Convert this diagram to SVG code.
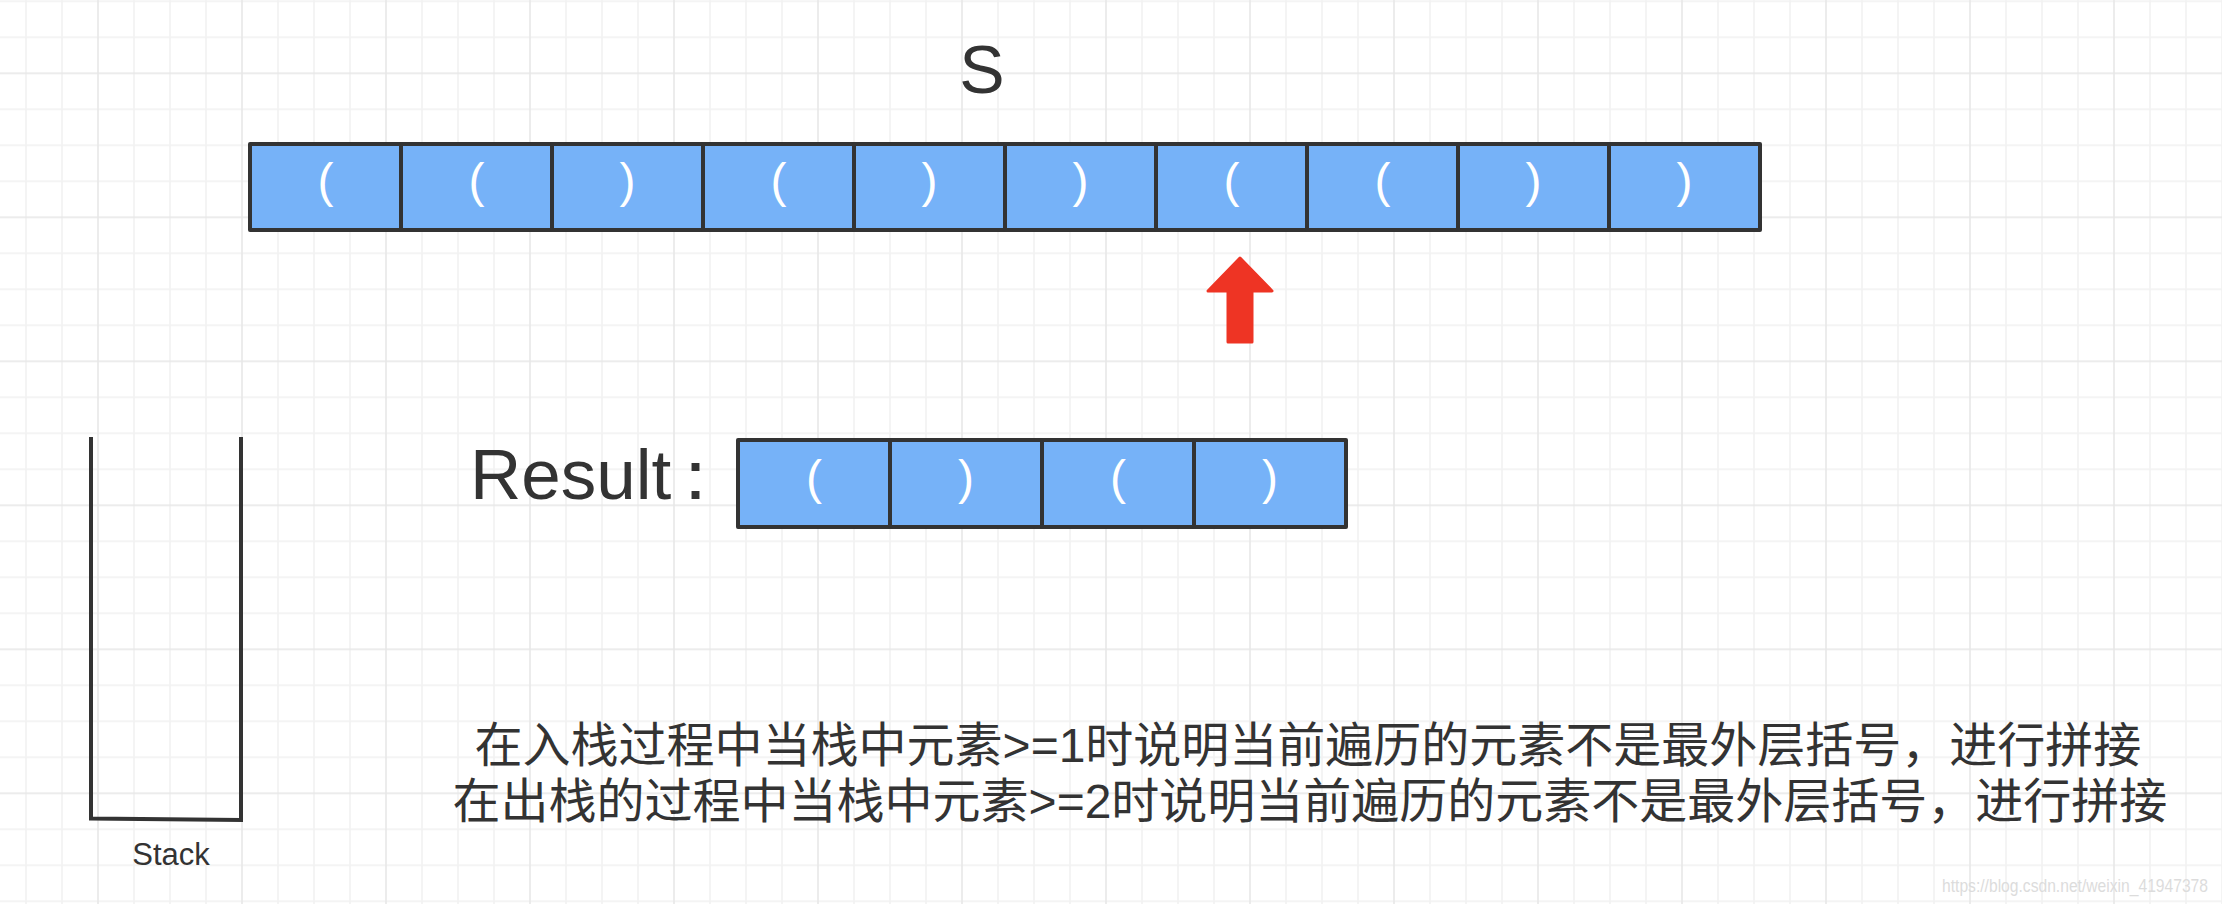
<svg xmlns="http://www.w3.org/2000/svg" width="2222" height="904" viewBox="0 0 2222 904">
  <defs>
    <pattern id="grid" patternUnits="userSpaceOnUse" x="8" y="-16.7" width="144" height="144">
      <rect x="17.25" y="0" width="1.5" height="144" fill="#f1f1f1"/>
      <rect x="53.25" y="0" width="1.5" height="144" fill="#f1f1f1"/>
      <rect x="125.25" y="0" width="1.5" height="144" fill="#f1f1f1"/>
      <rect x="0" y="17.25" width="144" height="1.5" fill="#f1f1f1"/>
      <rect x="0" y="53.25" width="144" height="1.5" fill="#f1f1f1"/>
      <rect x="0" y="125.25" width="144" height="1.5" fill="#f1f1f1"/>
      <rect x="89.25" y="0" width="1.5" height="144" fill="#e6e6e6"/>
      <rect x="0" y="89.25" width="144" height="1.5" fill="#e6e6e6"/>
    </pattern>
    <style>
      .cell { fill: #76b2f8; stroke: #333333; stroke-width: 4; stroke-linejoin: round; }
      .par { font-family: "Liberation Sans", Arial, sans-serif; font-size: 48px; fill: #ffffff; text-anchor: middle; }
      .lbl { font-family: "Liberation Sans", Arial, sans-serif; fill: #333333; }
      .cn { font-family: "Liberation Sans", "Noto Sans CJK SC", sans-serif; font-size: 48px; fill: #333333; text-anchor: middle; }
    </style>
  </defs>
  <rect x="0" y="0" width="2222" height="904" fill="#ffffff"/>
  <rect x="0" y="0" width="2222" height="904" fill="url(#grid)"/>

  <g id="title-S">
    <text class="lbl" x="982" y="93" font-size="68" text-anchor="middle">S</text>
  </g>

  <g id="array-S">
    <g id="s0"><rect class="cell" x="250" y="144" width="151" height="86"/><text class="par" x="325.5" y="197">(</text></g>
    <g id="s1"><rect class="cell" x="401" y="144" width="151" height="86"/><text class="par" x="476.5" y="197">(</text></g>
    <g id="s2"><rect class="cell" x="552" y="144" width="151" height="86"/><text class="par" x="627.5" y="197">)</text></g>
    <g id="s3"><rect class="cell" x="703" y="144" width="151" height="86"/><text class="par" x="778.5" y="197">(</text></g>
    <g id="s4"><rect class="cell" x="854" y="144" width="151" height="86"/><text class="par" x="929.5" y="197">)</text></g>
    <g id="s5"><rect class="cell" x="1005" y="144" width="151" height="86"/><text class="par" x="1080.5" y="197">)</text></g>
    <g id="s6"><rect class="cell" x="1156" y="144" width="151" height="86"/><text class="par" x="1231.5" y="197">(</text></g>
    <g id="s7"><rect class="cell" x="1307" y="144" width="151" height="86"/><text class="par" x="1382.5" y="197">(</text></g>
    <g id="s8"><rect class="cell" x="1458" y="144" width="151" height="86"/><text class="par" x="1533.5" y="197">)</text></g>
    <g id="s9"><rect class="cell" x="1609" y="144" width="151" height="86"/><text class="par" x="1684.5" y="197">)</text></g>
  </g>

  <g id="pointer-arrow">
    <polygon points="1240,258 1272,291 1252,291 1252,342 1228,342 1228,291 1208,291" fill="#ee3424" stroke="#ee3424" stroke-width="3" stroke-linejoin="round"/>
  </g>

  <g id="result-label">
    <text class="lbl" x="470" y="499" font-size="71" font-family="Liberation Sans, Noto Sans CJK SC, sans-serif">Result<tspan dx="-11">：</tspan></text>
  </g>

  <g id="array-result">
    <g id="r0"><rect class="cell" x="738" y="440" width="152" height="87"/><text class="par" x="814" y="493.5">(</text></g>
    <g id="r1"><rect class="cell" x="890" y="440" width="152" height="87"/><text class="par" x="966" y="493.5">)</text></g>
    <g id="r2"><rect class="cell" x="1042" y="440" width="152" height="87"/><text class="par" x="1118" y="493.5">(</text></g>
    <g id="r3"><rect class="cell" x="1194" y="440" width="152" height="87"/><text class="par" x="1270" y="493.5">)</text></g>
  </g>

  <g id="stack">
    <path d="M91,437 V818.5 L241,820 V437" fill="none" stroke="#333333" stroke-width="4"/>
    <text class="lbl" x="171" y="865" font-size="31" text-anchor="middle">Stack</text>
  </g>

  <g id="notes">
    <text class="cn" x="1308" y="762">在入栈过程中当栈中元素&gt;=1时说明当前遍历的元素不是最外层括号，进行拼接</text>
    <text class="cn" x="1310" y="818">在出栈的过程中当栈中元素&gt;=2时说明当前遍历的元素不是最外层括号，进行拼接</text>
  </g>

  <g id="watermark">
    <text x="1942" y="892" font-family="Liberation Sans, Arial, sans-serif" font-size="19" fill="#dcdcdc" textLength="266" lengthAdjust="spacingAndGlyphs">https://blog.csdn.net/weixin_41947378</text>
  </g>

  <g id="connectors"></g>
</svg>
